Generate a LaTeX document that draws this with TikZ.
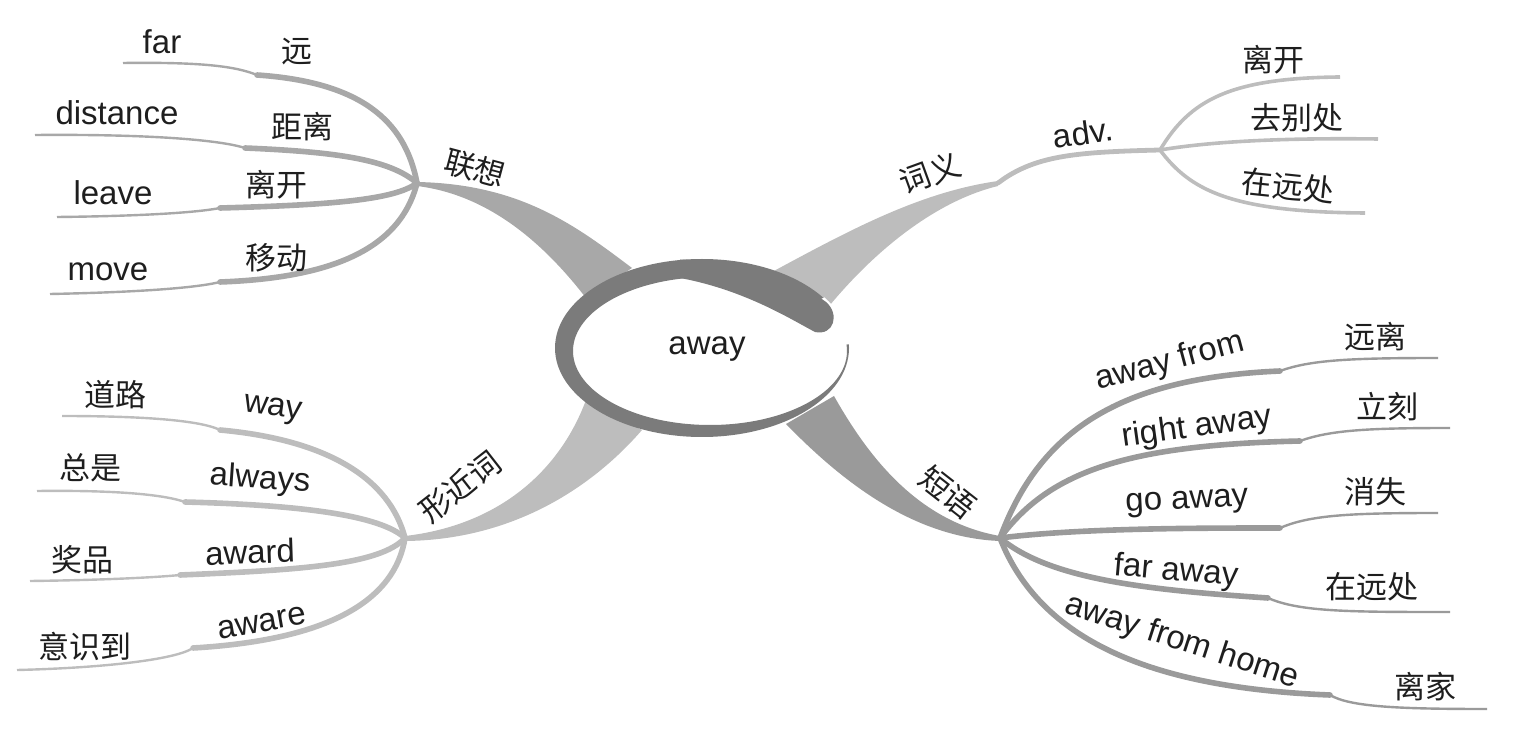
\documentclass[tikz,border=0pt]{standalone}
\usepackage{fontspec}
\setmainfont{Liberation Sans}
\newfontfamily\cjk{Noto Sans CJK SC}
\definecolor{txt}{HTML}{1E1E1E}
\definecolor{cA}{HTML}{A8A8A8}
\definecolor{cB}{HTML}{BDBDBD}
\definecolor{cC}{HTML}{9A9A9A}
\definecolor{ringc}{HTML}{7B7B7B}
\begin{document}
\begin{tikzpicture}[x=0.5pt,y=-0.5pt,
  en/.style={font=\fontsize{16.5}{18}\selectfont, text=txt, inner sep=0pt},
  zh/.style={font=\cjk\fontsize{15.5}{18}\selectfont, text=txt, inner sep=0pt},
  thk/.style={line width=2.8pt, line cap=round},
  thn/.style={line width=1.2pt},
  mid/.style={line width=2.4pt, line cap=round}]
\useasboundingbox (0,0) rectangle (1515,748);

% hubs
\coordinate (H1) at (417,183);
\coordinate (T2) at (998,183);
\coordinate (H2) at (1160,150);
\coordinate (H3) at (405,538);
\coordinate (H4) at (1000,538);

% ---------- main branches ----------
\fill[cA] (417,182) .. controls (520,184) and (575,225) .. (632,268) -- (586,298) .. controls (545,245) and (490,195) .. (417,186) -- cycle;
\fill[cB] (998,181) .. controls (920,192) and (850,230) .. (772,272) -- (830,305) .. controls (880,245) and (940,200) .. (998,186) -- cycle;
\fill[cB] (405,536) .. controls (500,525) and (560,470) .. (586,400) -- (642,430) .. controls (590,490) and (510,540) .. (405,541) -- cycle;
\fill[cC] (1000,536) .. controls (920,522) and (870,460) .. (834,396) -- (786,424) .. controls (850,490) and (920,538) .. (1000,541) -- cycle;

% ---------- top-left leaves ----------
\coordinate (e11) at (123,63);  \coordinate (s11) at (257,75);
\coordinate (e12) at (35,135);  \coordinate (s12) at (245,148);
\coordinate (e13) at (57,217);  \coordinate (s13) at (220,208);
\coordinate (e14) at (50,294);  \coordinate (s14) at (220,282);
\begin{scope}[draw=cA]
\draw[thn] (e11) .. controls (200,62) and (235,66) .. (s11);
\draw[thk] (s11) .. controls (360,82) and (405,120) .. (H1);
\draw[thn] (e12) .. controls (150,134) and (220,140) .. (s12);
\draw[thk] (s12) .. controls (340,152) and (390,160) .. (H1);
\draw[thn] (e13) .. controls (150,216) and (200,212) .. (s13);
\draw[thk] (s13) .. controls (330,205) and (395,200) .. (H1);
\draw[thn] (e14) .. controls (150,292) and (200,287) .. (s14);
\draw[thk] (s14) .. controls (330,278) and (400,250) .. (H1);
\end{scope}
\node[en] (far) at (162,42) {far};
\node[zh] (yuan) at (297,52) {远};
\node[en] (distance) at (117,113) {distance};
\node[zh] (juli) at (302,127) {距离};
\node[en] (leave) at (113,193) {leave};
\node[zh] (likai1) at (276,185) {离开};
\node[en] (move) at (108,272) {move};
\node[zh] (yidong) at (276,258) {移动};
\node[zh, rotate=-15] (lianxiang) at (475,168) {联想};

% ---------- top-right ----------
\coordinate (e21) at (1340,77);
\coordinate (e22) at (1378,139);
\coordinate (e23) at (1365,213);
\begin{scope}[draw=cB]
\draw[mid] (T2) -- (1005,178) .. controls (1040,155) and (1080,152) .. (H2);
\draw[line width=1.8pt] (H2) .. controls (1190,100) and (1230,78) .. (e21);
\draw[line width=1.8pt] (H2) .. controls (1220,140) and (1300,138) .. (e22);
\draw[line width=1.8pt] (H2) .. controls (1190,190) and (1230,212) .. (e23);
\end{scope}
\node[zh, rotate=20] (ciyi) at (930,173) {词义};
\node[en, rotate=8] (adv) at (1083,133) {adv.};
\node[zh] (likai2) at (1273,60) {离开};
\node[zh] (qubiechu) at (1297,118) {去别处};
\node[zh, rotate=-6] (zaiyuanchu1) at (1288,186) {在远处};

% ---------- bottom-left ----------
\coordinate (e31) at (62,416);  \coordinate (s31) at (220,430);
\coordinate (e32) at (37,491);  \coordinate (s32) at (185,502);
\coordinate (e33) at (30,581);  \coordinate (s33) at (180,575);
\coordinate (e34) at (17,670);  \coordinate (s34) at (193,648);
\begin{scope}[draw=cB]
\draw[thn] (e31) .. controls (140,416) and (200,420) .. (s31);
\draw[thk] (s31) .. controls (330,440) and (390,480) .. (H3);
\draw[thn] (e32) .. controls (120,490) and (165,495) .. (s32);
\draw[thk] (s32) .. controls (300,505) and (380,515) .. (H3);
\draw[thn] (e33) .. controls (110,580) and (160,577) .. (s33);
\draw[thk] (s33) .. controls (300,570) and (380,565) .. (H3);
\draw[thn] (e34) .. controls (100,668) and (175,660) .. (s34);
\draw[thk] (s34) .. controls (330,640) and (395,600) .. (H3);
\end{scope}
\node[zh] (daolu) at (115,395) {道路};
\node[en, rotate=-8] (way) at (273,410) {way};
\node[zh] (zongshi) at (90,468) {总是};
\node[en, rotate=-4] (always) at (260,480) {always};
\node[zh] (jiangpin) at (82,560) {奖品};
\node[en, rotate=2] (award) at (250,552) {award};
\node[zh] (yishidao) at (85,647) {意识到};
\node[en, rotate=10] (aware) at (262,623) {aware};
\node[zh, rotate=38] (xingjinci) at (460,487) {形近词};

% ---------- bottom-right ----------
\coordinate (e41) at (1438,358); \coordinate (s41) at (1280,371);
\coordinate (e42) at (1450,428); \coordinate (s42) at (1300,441);
\coordinate (e43) at (1438,513); \coordinate (s43) at (1280,528);
\coordinate (e44) at (1450,612); \coordinate (s44) at (1268,598);
\coordinate (e45) at (1487,709); \coordinate (s45) at (1330,695);
\begin{scope}[draw=cC]
\draw[thk] (H4) .. controls (1040,430) and (1120,378) .. (s41);
\draw[thn] (s41) .. controls (1310,360) and (1350,358) .. (e41);
\draw[thk] (H4) .. controls (1050,470) and (1130,445) .. (s42);
\draw[thn] (s42) .. controls (1330,430) and (1370,428) .. (e42);
\draw[thk] (H4) .. controls (1080,528) and (1200,528) .. (s43);
\draw[thn] (s43) .. controls (1310,515) and (1350,513) .. (e43);
\draw[thk] (H4) .. controls (1050,580) and (1150,590) .. (s44);
\draw[thn] (s44) .. controls (1300,612) and (1350,612) .. (e44);
\draw[thk] (H4) .. controls (1040,640) and (1150,688) .. (s45);
\draw[thn] (s45) .. controls (1350,707) and (1400,709) .. (e45);
\end{scope}
\node[zh, rotate=-38] (duanyu) at (948,492) {短语};
\node[en, rotate=15] (awayfrom) at (1170,362) {away from};
\node[zh] (yuanli) at (1375,337) {远离};
\node[en, rotate=8] (rightaway) at (1197,428) {right away};
\node[zh] (like) at (1387,407) {立刻};
\node[en, rotate=3] (goaway) at (1187,503) {go away};
\node[zh] (xiaoshi) at (1375,492) {消失};
\node[en, rotate=-5] (faraway) at (1176,572) {far away};
\node[zh] (zaiyuanchu2) at (1372,587) {在远处};
\node[en, rotate=-18] (awayfromhome) at (1182,642) {away from home};
\node[zh] (lijia) at (1425,687) {离家};

% ---------- central ring ----------
\fill[white] (710,351) ellipse [x radius=68.5pt, y radius=37pt];
\fill[ringc, even odd rule] (702,348) ellipse [x radius=73.5pt, y radius=44.5pt]
  (710,351) ellipse [x radius=68.5pt, y radius=37pt];
\begin{scope}
\clip (702,348) ellipse [x radius=74pt, y radius=45pt];
\fill[white] (710,351) -- (900,342) -- (900,262) -- cycle;
\end{scope}
\fill[ringc] (680,259.5) .. controls (742,261) and (800,282) .. (826,302)
  .. controls (840,314) and (834,336) .. (815,332)
  .. controls (792,320) and (745,290) .. (680,278) -- cycle;
\node[en] (away) at (707,349) {away};
\end{tikzpicture}
\end{document}
